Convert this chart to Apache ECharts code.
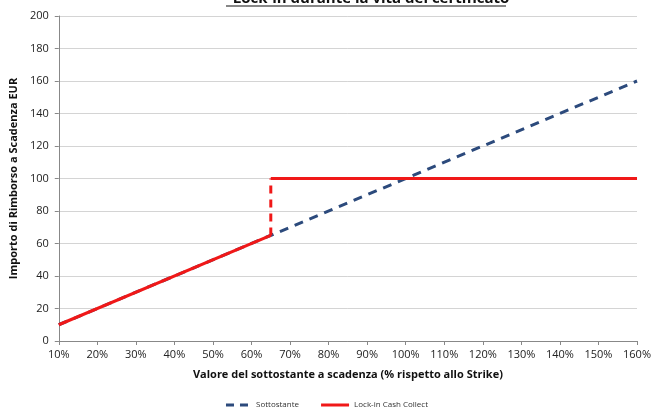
<!DOCTYPE html>
<html>
<head>
<meta charset="utf-8">
<script src="https://cdn.jsdelivr.net/npm/echarts@6/dist/echarts.min.js"></script>
<style>
html,body{margin:0;padding:0;background:#fff;}
#chart{width:654px;height:415px;}
</style>
</head>
<body>
<div id="chart"></div>
<script>
const titleText = 'Lock-in durante la vita del certificato';
const xAxisName = 'Valore del sottostante a scadenza (% rispetto allo Strike)';
const yAxisName = 'Importo di Rimborso a Scadenza EUR';
const seriesNames = ['Sottostante', 'Lock-in Cash Collect'];
// Sottostante: straight line
const sottX = [10, 160];
const sottY = [10, 160];
// Lock-in Cash Collect: follows underlying to 65%, jumps to 100, then flat
const lockX = [10, 65, 65, 160];
const lockY = [10, 65, 100, 100];

const pts = (xs, ys, a, b) => xs.slice(a, b + 1).map((x, i) => [x, ys[a + i]]);

const chart = echarts.init(document.getElementById('chart'));
const red = '#f01818';
const blue = '#2c4a7c';
chart.setOption({
  animation: false,
  title: {
    text: titleText,
    left: 366, textAlign: 'center', top: -14,
    textStyle: { fontFamily: 'Open Sans', fontSize: 15, fontWeight: 'bold', color: '#111' }
  },
  graphic: [{
    type: 'line', shape: { x1: 226, y1: 6, x2: 506, y2: 6 },
    style: { stroke: '#111', lineWidth: 1.2 }
  }],
  grid: { left: 56, right: 14, top: 16, bottom: 74, containLabel: false },
  legend: {
    data: [
      { name: seriesNames[0], icon: 'path://M0,0h8v3h-8z M14,0h8v3h-8z' },
      { name: seriesNames[1], icon: 'rect' }
    ],
    bottom: 1, left: 'center',
    itemWidth: 28, itemHeight: 3, itemGap: 22,
    textStyle: { fontSize: 8, color: '#333', fontFamily: 'Open Sans' }
  },
  xAxis: {
    type: 'value', min: 10, max: 160, interval: 10,
    name: xAxisName, nameLocation: 'middle', nameGap: 28,
    nameTextStyle: { fontWeight: 'bold', fontSize: 11, color: '#111', fontFamily: 'Open Sans' },
    axisLine: { lineStyle: { color: '#888' } },
    axisTick: { show: true, length: 4, lineStyle: { color: '#888' } },
    axisLabel: { formatter: '{value}%', fontSize: 11, color: '#222', margin: 8, fontFamily: 'Open Sans' },
    splitLine: { show: false }
  },
  yAxis: {
    type: 'value', min: 0, max: 200, interval: 20,
    name: yAxisName, nameLocation: 'middle', nameGap: 38,
    nameTextStyle: { fontWeight: 'bold', fontSize: 11, color: '#111', fontFamily: 'Open Sans' },
    axisLine: { show: true, lineStyle: { color: '#888' } },
    axisTick: { show: true, length: 4, lineStyle: { color: '#888' } },
    axisLabel: { fontSize: 11, color: '#222', margin: 10, fontFamily: 'Open Sans' },
    splitLine: { show: true, lineStyle: { color: '#d4d4d4', width: 1 } }
  },
  series: [
    {
      name: seriesNames[0], type: 'line', data: pts(sottX, sottY, 0, sottX.length - 1),
      showSymbol: false, symbol: 'none', z: 2,
      lineStyle: { color: blue, width: 3, type: [9, 7] }, itemStyle: { color: blue }
    },
    {
      name: seriesNames[1], type: 'line', data: pts(lockX, lockY, 0, 1),
      showSymbol: false, symbol: 'none', z: 3,
      lineStyle: { color: red, width: 3 }, itemStyle: { color: red }
    },
    {
      name: seriesNames[1], type: 'line', data: pts(lockX, lockY, 1, 2),
      showSymbol: false, symbol: 'none', z: 3,
      lineStyle: { color: red, width: 3, type: [8, 6] }, itemStyle: { color: red }
    },
    {
      name: seriesNames[1], type: 'line', data: pts(lockX, lockY, 2, 3),
      showSymbol: false, symbol: 'none', z: 3,
      lineStyle: { color: red, width: 3 }, itemStyle: { color: red }
    }
  ]
});
</script>
</body>
</html>
